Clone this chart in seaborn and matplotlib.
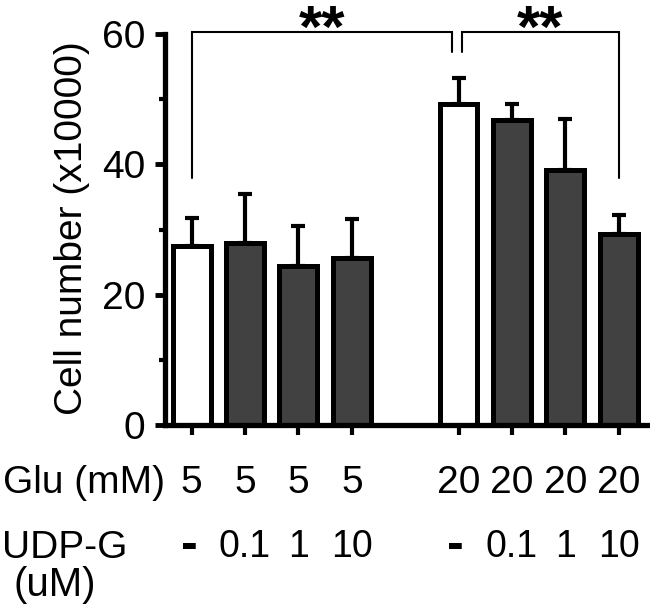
import numpy as np
import pandas as pd
import matplotlib
matplotlib.use("Agg")
import matplotlib.pyplot as plt
import matplotlib.transforms as mtransforms
from matplotlib import font_manager
import seaborn as sns

# ---- data ----
positions = [0, 1, 2, 3, 5, 6, 7, 8]
glu_labels = ["5", "5", "5", "5", "20", "20", "20", "20"]
udpg_labels = ["-", "0.1", "1", "10", "-", "0.1", "1", "10"]
treatment = ["control", "UDP-G", "UDP-G", "UDP-G", "control", "UDP-G", "UDP-G", "UDP-G"]
cell_number = [27.4, 28.0, 24.4, 25.6, 49.2, 46.8, 39.2, 29.3]
cell_sem = [4.4, 7.5, 6.1, 6.0, 4.1, 2.5, 7.8, 3.0]
y_ticks = [0, 20, 40, 60]

df = pd.DataFrame({"pos": positions, "value": cell_number, "treat": treatment})

sns.set_style("ticks")
names = {f.name for f in font_manager.fontManager.ttflist}
base_font = "Liberation Sans" if "Liberation Sans" in names else "DejaVu Sans"
plt.rcParams["font.family"] = [base_font, "DejaVu Sans"]
plt.rcParams["text.color"] = "black"
plt.rcParams["axes.edgecolor"] = "black"
plt.rcParams["xtick.color"] = "black"
plt.rcParams["ytick.color"] = "black"
plt.rcParams["axes.labelcolor"] = "black"

fig = plt.figure(figsize=(6.5, 6.15), dpi=100)
ax = fig.add_axes([165 / 650, 1 - 425 / 615, (648 - 165) / 650, (425 - 34) / 615])

sns.barplot(data=df, x="pos", y="value", hue="treat", native_scale=True, dodge=False,
            palette={"control": "white", "UDP-G": "#414141"}, width=0.71,
            edgecolor="black", linewidth=3.6, errorbar=None, legend=False, ax=ax,
            saturation=1)
ax.errorbar(positions, cell_number, yerr=[np.zeros(len(cell_sem)), cell_sem], fmt="none",
            ecolor="black", elinewidth=3.0, capsize=5, capthick=3.0, zorder=1)

ax.set_xlim(-0.5, 8.55)
ax.set_ylim(0, 60)
for s in ["top", "right"]:
    ax.spines[s].set_visible(False)
for s in ["left", "bottom"]:
    ax.spines[s].set_linewidth(3.8)
    ax.spines[s].set_color("black")
ax.set_yticks(y_ticks)
ax.set_yticklabels([str(v) for v in y_ticks], fontsize=28, color="black")
ax.set_yticks([10, 30, 50], minor=True)
ax.tick_params(axis="y", which="major", length=7, width=3.5, pad=7, colors="black")
ax.tick_params(axis="y", which="minor", length=4, width=3.0, colors="black")
ax.set_xticks(positions)
ax.set_xticklabels([""] * len(positions))
ax.tick_params(axis="x", which="major", length=7, width=3.0, colors="black")
ax.set_xlabel("")
ax.set_ylabel("")

fig.text(72 / 650, 1 - 228 / 615, "Cell number (x10000)", rotation=90, fontsize=28,
         ha="center", va="center", color="black")

# x labels rows
trans = mtransforms.blended_transform_factory(ax.transData, fig.transFigure)
for p, g, u in zip(positions, glu_labels, udpg_labels):
    ax.text(p, 1 - 493 / 615, g, transform=trans, ha="center", va="baseline", fontsize=28,
            color="black")
    if u == "-":
        ax.text(p - 0.05, 1 - 559 / 615, u, transform=trans, ha="center", va="baseline",
                fontsize=36, color="black", fontweight="bold")
    else:
        ax.text(p, 1 - 557 / 615, u, transform=trans, ha="center", va="baseline",
                fontsize=27, color="black")
fig.text(3 / 650, 1 - 493 / 615, "Glu (mM)", ha="left", va="baseline", fontsize=28,
         color="black")
fig.text(2 / 650, 1 - 558 / 615, "UDP-G", ha="left", va="baseline", fontsize=28,
         color="black")
fig.text(55 / 650, 1 - 596 / 615, "(uM)", ha="center", va="baseline", fontsize=29,
         color="black")

# significance brackets
top, leg_short, leg_long = 60.3, 57.2, 37.9
ax.plot([0, 0, 4.87, 4.87], [leg_long, top, top, leg_short], color="black", lw=1.5,
        clip_on=False, solid_joinstyle="miter")
ax.plot([5.06, 5.06, 8, 8], [leg_short, top, top, leg_long], color="black", lw=1.5,
        clip_on=False, solid_joinstyle="miter")
for xs in (2.44, 6.53):
    ax.text(xs, 1 - 47 / 615, "**", transform=trans, ha="center", va="baseline",
            fontsize=43, fontweight="bold", color="black", clip_on=False)

fig.savefig("out.png", dpi=100)
